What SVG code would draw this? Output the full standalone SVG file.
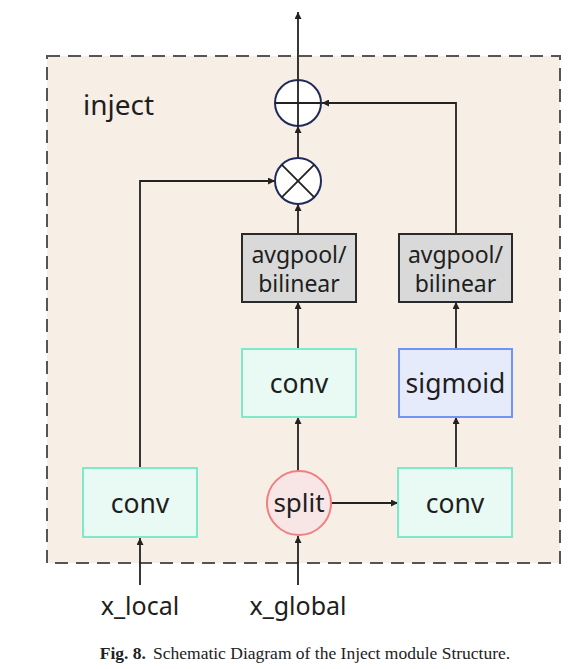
<svg xmlns="http://www.w3.org/2000/svg" width="582" height="669" viewBox="0 0 582 669">
<defs>
<marker id="ah" viewBox="0 0 10 10" refX="10" refY="5" markerWidth="7" markerHeight="7" markerUnits="userSpaceOnUse" orient="auto">
<path d="M0,0 L10,5 L0,10 z" fill="#222"/>
</marker>
<style>
.lbl{font-family:"Noto Sans","Open Sans","DejaVu Sans",sans-serif;fill:#1e1e1e;text-anchor:middle}
.mint{fill:#e8faf3;stroke:#7debcb;stroke-width:2}
.pool{fill:#d9d9d9;stroke:#2a2a2a;stroke-width:2}
.op{fill:#fff;stroke:#1f2a5a;stroke-width:2}
.wire{fill:none;stroke:#222;stroke-width:1.8}
</style>
</defs>
<rect width="582" height="669" fill="#fff"/>
<g id="inject-frame">
<rect x="47" y="56" width="513" height="507" fill="#f7eee6" stroke="#555" stroke-width="2" stroke-dasharray="13,8"/>
<text x="83" y="115" class="lbl" style="text-anchor:start;font-size:28px">inject</text>
</g>
<g id="connectors">
<path class="wire" d="M298,80 V12" marker-end="url(#ah)"/>
<path class="wire" d="M298,158 V126" marker-end="url(#ah)"/>
<path class="wire" d="M298,234 V204" marker-end="url(#ah)"/>
<path class="wire" d="M298,349 V302" marker-end="url(#ah)"/>
<path class="wire" d="M298,471 V417" marker-end="url(#ah)"/>
<path class="wire" d="M298,585 V536" marker-end="url(#ah)"/>
<path class="wire" d="M140,585 V538" marker-end="url(#ah)"/>
<path class="wire" d="M140,468 V181 H275" marker-end="url(#ah)"/>
<path class="wire" d="M331,503 H398" marker-end="url(#ah)"/>
<path class="wire" d="M456,468 V417" marker-end="url(#ah)"/>
<path class="wire" d="M456,349 V302" marker-end="url(#ah)"/>
<path class="wire" d="M456,234 V103 H322" marker-end="url(#ah)"/>
</g>
<g id="add">
<circle cx="298" cy="103" r="23" class="op"/>
<path d="M275,103 H321 M298,80 V126" stroke="#222" stroke-width="1.8"/>
</g>
<g id="mul">
<circle cx="298" cy="181" r="23" class="op"/>
<path d="M281.7,164.7 L314.3,197.3 M314.3,164.7 L281.7,197.3" stroke="#222" stroke-width="1.8"/>
</g>
<g id="pool1">
<rect x="242" y="234" width="114" height="68" class="pool"/>
<text x="299" y="263" class="lbl" style="font-size:23px">avgpool/</text>
<text x="299" y="292" class="lbl" style="font-size:23px">bilinear</text>
</g>
<g id="pool2">
<rect x="399" y="234" width="113" height="68" class="pool"/>
<text x="455.5" y="263" class="lbl" style="font-size:23px">avgpool/</text>
<text x="455.5" y="292" class="lbl" style="font-size:23px">bilinear</text>
</g>
<g id="conv-mid">
<rect x="242" y="349" width="114" height="68" class="mint"/>
<text x="299" y="393" class="lbl" style="font-size:26.5px">conv</text>
</g>
<g id="sigmoid">
<rect x="399" y="349" width="113" height="68" fill="#e6ebfb" stroke="#6f94f5" stroke-width="2"/>
<text x="455.5" y="393" class="lbl" style="font-size:26.5px">sigmoid</text>
</g>
<g id="conv-local">
<rect x="83" y="468" width="114" height="69" class="mint"/>
<text x="140" y="513" class="lbl" style="font-size:26.5px">conv</text>
</g>
<g id="split">
<circle cx="299" cy="503" r="32" fill="#f8e6e6" stroke="#f08080" stroke-width="2"/>
<text x="299" y="512" class="lbl" style="font-size:26px">split</text>
</g>
<g id="conv-right">
<rect x="398" y="468" width="114" height="69" class="mint"/>
<text x="455" y="513" class="lbl" style="font-size:26.5px">conv</text>
</g>
<g id="inputs">
<text x="140" y="615" class="lbl" style="font-size:25px">x_local</text>
<text x="298" y="615" class="lbl" style="font-size:25px">x_global</text>
</g>
<g id="caption">
<text x="305" y="659" style="font-family:'Liberation Serif',serif;font-size:17.5px;fill:#222;text-anchor:middle"><tspan font-weight="bold">Fig. 8.</tspan><tspan dx="7">Schematic Diagram of the Inject module Structure.</tspan></text>
</g>
</svg>
